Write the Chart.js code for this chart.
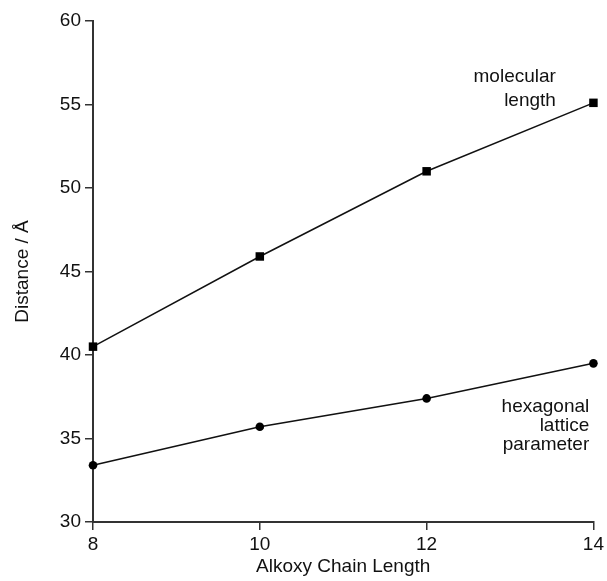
<!DOCTYPE html>
<html>
<head>
<meta charset="utf-8">
<script src="https://cdn.jsdelivr.net/npm/chart.js@4.4.0/dist/chart.umd.min.js"></script>
<style>
  html, body { margin: 0; padding: 0; background: #fff; }
  #wrap { width: 607px; height: 581px; position: relative; }
</style>
</head>
<body>
<div id="wrap"><canvas id="c"></canvas></div>
<script>
// chain length (x) and distances (y)
var chainLength = [8, 10, 12, 14];
var molecularLength = [40.5, 45.9, 51.0, 55.1];
var latticeParam = [33.4, 35.7, 37.4, 39.5];
var xTicks = [8, 10, 12, 14];
var yTicks = [30, 35, 40, 45, 50, 55, 60];

function pts(xs, ys) {
  return xs.map(function(x, i){ return {x: x, y: ys[i]}; });
}

var fontFam = '"Liberation Sans", Arial, Helvetica, sans-serif';

// text labels next to the curves
var labelPlugin = {
  id: 'curveLabels',
  afterDatasetsDraw: function(chart) {
    var ctx = chart.ctx;
    var xs = chart.scales.x, ys = chart.scales.y;
    ctx.save();
    ctx.fillStyle = '#111';
    ctx.font = '19px ' + fontFam;
    ctx.textAlign = 'right';
    ctx.textBaseline = 'middle';
    var x1 = xs.getPixelForValue(13.55);
    ctx.fillText('molecular', x1, ys.getPixelForValue(56.65));
    ctx.fillText('length', x1, ys.getPixelForValue(55.25));
    var x2 = xs.getPixelForValue(13.95);
    ctx.fillText('hexagonal', x2, ys.getPixelForValue(36.9));
    ctx.fillText('lattice', x2, ys.getPixelForValue(35.75));
    ctx.fillText('parameter', x2, ys.getPixelForValue(34.65));
    ctx.restore();
  }
};

var ctx = document.getElementById('c');
var myChart = new Chart(ctx, {
  type: 'scatter',
  data: {
    datasets: [{
      label: 'molecular length',
      data: pts(chainLength, molecularLength),
      showLine: true,
      clip: false,
      borderColor: '#111',
      backgroundColor: '#000',
      borderWidth: 1.5,
      pointStyle: 'rect',
      pointRadius: 6,
      pointBorderWidth: 0
    }, {
      label: 'hexagonal lattice parameter',
      data: pts(chainLength, latticeParam),
      showLine: true,
      clip: false,
      borderColor: '#111',
      backgroundColor: '#000',
      borderWidth: 1.5,
      pointStyle: 'circle',
      pointRadius: 4.3,
      pointBorderWidth: 0
    }]
  },
  options: {
    responsive: true,
    maintainAspectRatio: false,
    animation: false,
    layout: { padding: { left: 0, right: 13, top: 21, bottom: 0 } },
    plugins: {
      legend: { display: false },
      tooltip: { enabled: false }
    },
    scales: {
      x: {
        type: 'linear',
        min: 8, max: 14,
        afterBuildTicks: function(axis){ axis.ticks = xTicks.map(function(v){ return {value: v}; }); },
        afterFit: function(axis){ axis.height = 59; },
        grid: { drawOnChartArea: false, tickLength: 8, color: '#333', lineWidth: 1.5 },
        border: { color: '#333', width: 2 },
        ticks: { color: '#111', font: { size: 19, family: fontFam }, padding: 3, maxRotation: 0 },
        title: { display: true, text: 'Alkoxy Chain Length', color: '#111', font: { size: 19, family: fontFam }, padding: { top: 0, bottom: 3 } }
      },
      y: {
        min: 30, max: 60,
        afterBuildTicks: function(axis){ axis.ticks = yTicks.map(function(v){ return {value: v}; }); },
        afterFit: function(axis){ axis.width = 93; },
        grid: { drawOnChartArea: false, tickLength: 8, color: '#333', lineWidth: 1.5 },
        border: { color: '#333', width: 2 },
        ticks: { color: '#111', font: { size: 19, family: fontFam }, padding: 4 },
        title: { display: true, text: 'Distance / Å', color: '#111', font: { size: 19, family: fontFam }, padding: { top: 11, bottom: 6 } }
      }
    }
  },
  plugins: [labelPlugin]
});
</script>
</body>
</html>
